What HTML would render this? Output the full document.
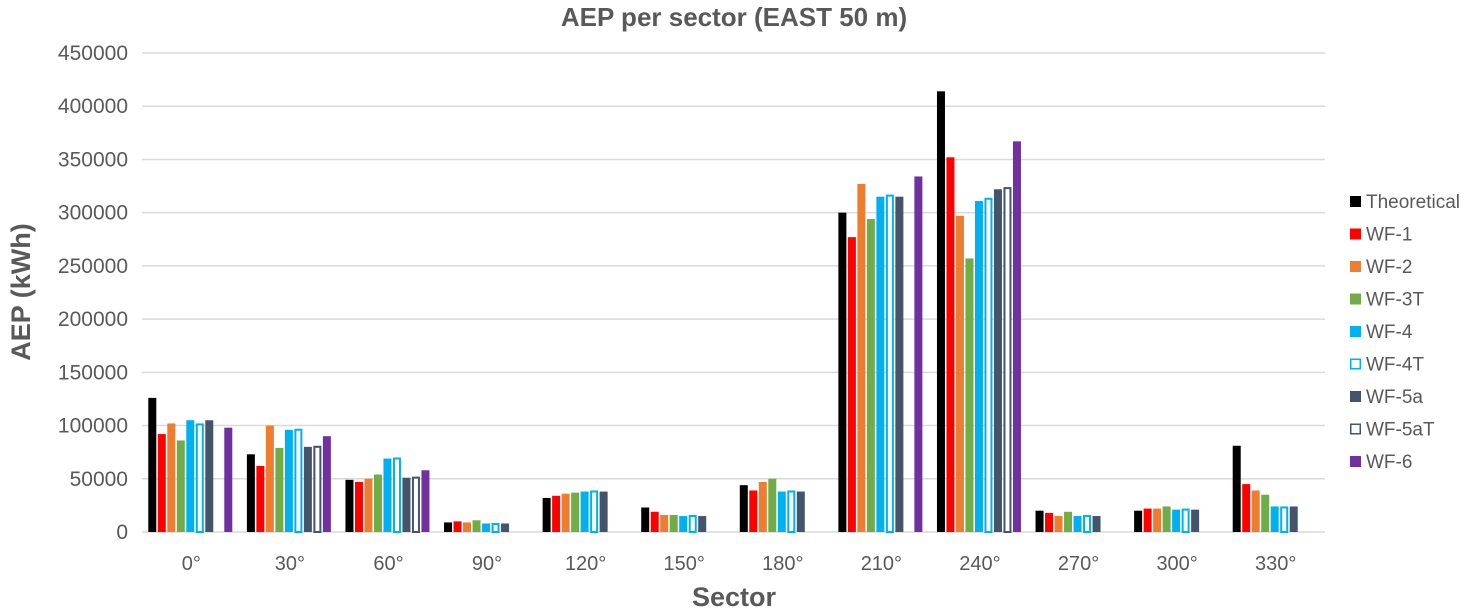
<!DOCTYPE html>
<html><head><meta charset="utf-8"><style>
body{margin:0;background:#fff;font-family:"Liberation Sans",sans-serif}
</style></head><body>
<svg id="c" width="1469" height="608" xmlns="http://www.w3.org/2000/svg"></svg>
<script>
const categories=["0°","30°","60°","90°","120°","150°","180°","210°","240°","270°","300°","330°"];
const seriesNames=["Theoretical","WF-1","WF-2","WF-3T","WF-4","WF-4T","WF-5a","WF-5aT","WF-6"];
const sTheoretical=[126000,73000,49000,9000,32000,23000,44000,300000,414000,20000,20000,81000];
const sWF1=[92000,62000,47000,10000,34000,19000,39000,277000,352000,18000,22000,45000];
const sWF2=[102000,100000,50000,9000,36000,16000,47000,327000,297000,15000,22000,39000];
const sWF3T=[86000,79000,54000,11000,37000,16000,50000,294000,257000,19000,24000,35000];
const sWF4=[105000,96000,69000,8000,38000,15000,38000,315000,311000,15000,21000,24000];
const sWF4T=[102000,97000,70000,8500,39000,16000,39000,317000,314000,16000,22000,24000];
const sWF5a=[105000,80000,51000,8000,38000,15000,38000,315000,322000,15000,21000,24000];
const sWF5aT=[null,81000,52000,null,null,null,null,null,324000,null,null,null];
const sWF6=[98000,90000,58000,null,null,null,null,334000,367000,null,null,null];
const yTicks=[0,50000,100000,150000,200000,250000,300000,350000,400000,450000];
const allSeries=[sTheoretical,sWF1,sWF2,sWF3T,sWF4,sWF4T,sWF5a,sWF5aT,sWF6];
const fills=["#000","#ff0000","#ed7d31","#70ad47","#00b0f0","#fff","#44546a","#fff","#7030a0"];
const strokes=["#000","#ff0000","#ed7d31","#70ad47","#00b0f0","#00b0f0","#44546a","#44546a","#7030a0"];
const svg=document.getElementById('c');const NS="http://www.w3.org/2000/svg";
const X0=142,X1=1325,Y0=532,Y1=53,YMAX=450000;
const y=v=>Y0-v/YMAX*(Y0-Y1);
const cw=(X1-X0)/categories.length;
function el(t,a,txt){const e=document.createElementNS(NS,t);for(const k in a)e.setAttribute(k,a[k]);if(txt!=null)e.textContent=txt;svg.appendChild(e);return e;}
yTicks.forEach(t=>{
 const g=el('line',{x1:X0,x2:X1,y1:y(t),y2:y(t),stroke:"#d9d9d9","stroke-width":1.5});
 
 
 const l=el('text',{x:128,y:y(t)+7,"text-anchor":"end","font-size":21,fill:"#595959"},t);
 
 
});
categories.forEach((c,i)=>{
 const cx=X0+cw*(i+0.5);
 const l=el('text',{x:cx,y:570,"text-anchor":"middle","font-size":20,fill:"#595959"},c);
 
 
 allSeries.forEach((s,j)=>{
  const v=s[i]; if(v==null)return;
  const bx=cx-43+j*9.5;
  const hollow=(j==5||j==7);
  const r=el('rect',{x:bx+(hollow?1:0),y:y(v)+(hollow?1:0),width:hollow?6:8,height:Math.max(0,Y0-y(v)-(hollow?1:0)),fill:fills[j],stroke:hollow?strokes[j]:"none","stroke-width":2});
  
  
 });
});
const t=el('text',{x:734,y:26,"text-anchor":"middle","font-size":26,"font-weight":"bold",fill:"#595959"},"AEP per sector (EAST 50 m)");


const xt=el('text',{x:734,y:606,"text-anchor":"middle","font-size":27,"font-weight":"bold",fill:"#595959"},"Sector");


const yt=el('text',{x:0,y:0,"text-anchor":"middle","font-size":27,"font-weight":"bold",fill:"#595959",transform:"translate(30,292) rotate(-90)"},"AEP (kWh)");


seriesNames.forEach((n,j)=>{
 const ly=201+j*32.5;
 const hollow=(j==5||j==7);
 const m=el('rect',{x:1350+(hollow?0.75:0),y:ly-5+(hollow?0.75:0),width:hollow?9.5:11,height:hollow?9.5:11,fill:fills[j],stroke:hollow?strokes[j]:"none","stroke-width":1.5});
 
 
 const l=el('text',{x:1366,y:ly+7,"font-size":19,fill:"#595959"},n);
 
 
});
</script>
</body></html>
